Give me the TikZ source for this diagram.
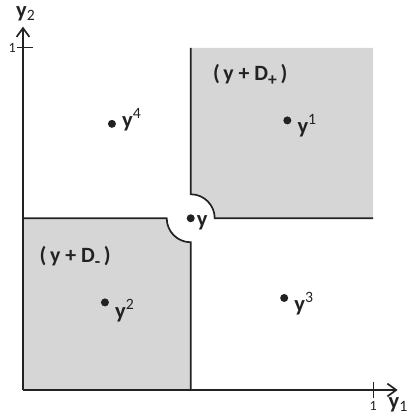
\documentclass[tikz,border=0pt]{standalone}
\usepackage{fontspec}
\setmainfont{Carlito}
\usetikzlibrary{arrows.meta, positioning}
\definecolor{palink}{RGB}{34,34,34}
\definecolor{palgrayfill}{RGB}{214,214,214}
\tikzset{
  axis/.style={
    line width=1.3pt,
    draw=palink,
    -{Straight Barb[length=2.2mm, width=3.2mm, line width=1.2pt]}
  },
  border/.style={line width=1.2pt, draw=palink},
  region/.style={fill=palgrayfill, draw=none},
  dot/.style={circle, fill=palink, inner sep=0pt, minimum size=2mm},
  ptlabel/.style={
    font=\fontsize{16}{18}\selectfont\bfseries,
    text=palink,
    inner sep=1pt
  },
  setlabel/.style={
    font=\fontsize{15.5}{17}\selectfont\bfseries,
    text=palink
  },
  ticklabel/.style={font=\fontsize{10}{12}\selectfont, text=palink, inner sep=1pt}
}
\newcommand{\conesub}[1]{\raisebox{-3pt}{\fontsize{12.5}{13}\selectfont #1}}

\begin{document}
\begin{tikzpicture}[x=8.75cm,y=8.55cm]
    \useasboundingbox (-0.0657,-0.076) rectangle (1.114,1.140);
    \coordinate (O) at (0,0);
    \coordinate (one) at (1,1);
    \coordinate (xend) at (1.07,0);
    \coordinate (yend) at (0,1.062);

    % shaded cones around y
    \node[dot] (py) at (0.479,0.502) {};
    \fill[region] (py |- one) -- ([yshift=6mm]py.center)
      arc[start angle=90, end angle=0, radius=6mm] -- (py -| one) -- (one) -- cycle;
    \fill[region] (O |- py) -- ([xshift=-6mm]py.center)
      arc[start angle=180, end angle=270, radius=6mm] -- (py |- O) -- (O) -- cycle;
    \draw[border] (py |- one) -- ([yshift=6mm]py.center)
      arc[start angle=90, end angle=0, radius=6mm] -- (py -| one);
    \draw[border] (O |- py) -- ([xshift=-6mm]py.center)
      arc[start angle=180, end angle=270, radius=6mm] -- (py |- O);

    % axes
    \draw[axis] (O) -- (xend);
    \draw[axis] (O) -- (yend);
    \draw[border, line width=0.8pt] (1,-0.022) -- (1,0.022);
    \draw[border, line width=0.8pt] (-0.018,1) -- (0.028,1);
    \node[ticklabel] (xone) at (1,-0.047) {1};
    \node[ticklabel] (yone) at (-0.031,1) {1};
    \node[ptlabel] (ylab1) at (1.072,-0.042) {y\textsubscript{\mdseries 1}};
    \node[ptlabel] (ylab2) at (0.008,1.1) {y\textsubscript{\mdseries 2}};

    % points
    \node[dot] (p1) at (0.755,0.788) {};
    \node[dot] (p2) at (0.234,0.256) {};
    \node[dot] (p3) at (0.746,0.269) {};
    \node[dot] (p4) at (0.254,0.778) {};

    \node[ptlabel, right=3pt of p1, yshift=-4pt] (l1) {y\textsuperscript{\mdseries 1}};
    \node[ptlabel, right=3pt of p2, yshift=-6pt] (l2) {y\textsuperscript{\mdseries 2}};
    \node[ptlabel, right=3pt of p3, yshift=-4pt] (l3) {y\textsuperscript{\mdseries 3}};
    \node[ptlabel, right=3pt of p4, yshift=3pt] (l4) {y\textsuperscript{\mdseries 4}};
    \node[ptlabel, below right=-5pt and 1pt of py] (ly) {y};

    \node[setlabel] (dplus) at (0.649,0.921) {(\,y + D\conesub{+}\,)};
    \node[setlabel] (dminus) at (0.149,0.389) {(\,y + D\conesub{-}\,)};
  \end{tikzpicture}
\end{document}
